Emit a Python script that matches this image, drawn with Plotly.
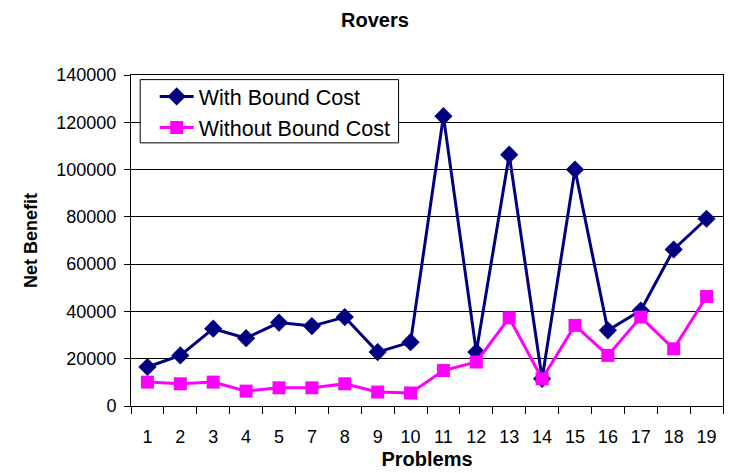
import plotly.graph_objects as go

# Problem instances (problem 6 is not part of the set)
problems = ["1", "2", "3", "4", "5", "7", "8", "9", "10", "11",
            "12", "13", "14", "15", "16", "17", "18", "19"]

with_bound_cost = [16500, 21400, 32700, 28700, 35300, 33800, 37600, 22800, 27000,
                   122600, 22800, 106300, 11500, 100000, 32000, 40400, 66200, 79200]

without_bound_cost = [10100, 9400, 10100, 6300, 7700, 7700, 9400, 5900, 5500,
                      15000, 18600, 37300, 11500, 34100, 21400, 37600, 24200, 46300]

FONT = "Arial, Liberation Sans, sans-serif"

fig = go.Figure()
fig.add_trace(go.Scatter(
    x=problems, y=with_bound_cost, name="With Bound Cost",
    mode="lines+markers",
    line=dict(color="#000080", width=3),
    marker=dict(symbol="diamond", size=14, color="#000080"),
))
fig.add_trace(go.Scatter(
    x=problems, y=without_bound_cost, name="Without Bound Cost",
    mode="lines+markers",
    line=dict(color="#FF00FF", width=3),
    marker=dict(symbol="square", size=13, color="#FF00FF"),
))

# white legend frame drawn as a shape so the entries can sit inside it freely
fig.add_shape(
    type="rect", xref="paper", yref="paper",
    x0=0.0155, x1=0.452, y0=0.795, y1=0.986,
    line=dict(color="black", width=1), fillcolor="white", layer="above",
)

fig.update_layout(
    width=729, height=473,
    margin=dict(l=131, r=6, t=75, b=67),
    paper_bgcolor="white", plot_bgcolor="white",
    font=dict(family=FONT, color="black"),
    showlegend=True,
    legend=dict(
        x=0.04, y=0.997, xanchor="left", yanchor="top",
        bgcolor="rgba(0,0,0,0)", borderwidth=0,
        font=dict(size=21.5, family=FONT, color="black"),
        itemwidth=34,
    ),
    annotations=[dict(
        text="<b>Rovers</b>", xref="paper", yref="paper",
        x=0.412, y=1.0, yshift=42, xanchor="center", yanchor="bottom",
        showarrow=False, font=dict(size=20, family=FONT, color="black"),
    )],
)

fig.update_xaxes(
    type="category", range=[-0.5, 17.5],
    tickson="boundaries", ticks="outside", ticklen=7, tickcolor="black",
    ticklabelstandoff=14,
    showline=True, linecolor="black", linewidth=1, mirror=True,
    showgrid=False,
    tickfont=dict(size=18, family=FONT),
    title=dict(text="<b>Problems</b>", font=dict(size=20, family=FONT), standoff=6),
)
fig.update_yaxes(
    range=[0, 140000], dtick=20000, tickformat="d",
    ticks="outside", ticklen=6, tickcolor="black",
    ticklabelstandoff=4,
    showline=True, linecolor="black", linewidth=1, mirror=True,
    showgrid=True, gridcolor="black", gridwidth=1,
    zeroline=False,
    tickfont=dict(size=18, family=FONT),
    title=dict(text="<b>Net Benefit</b>", font=dict(size=18, family=FONT), standoff=14),
)

fig.write_html("out.html")
